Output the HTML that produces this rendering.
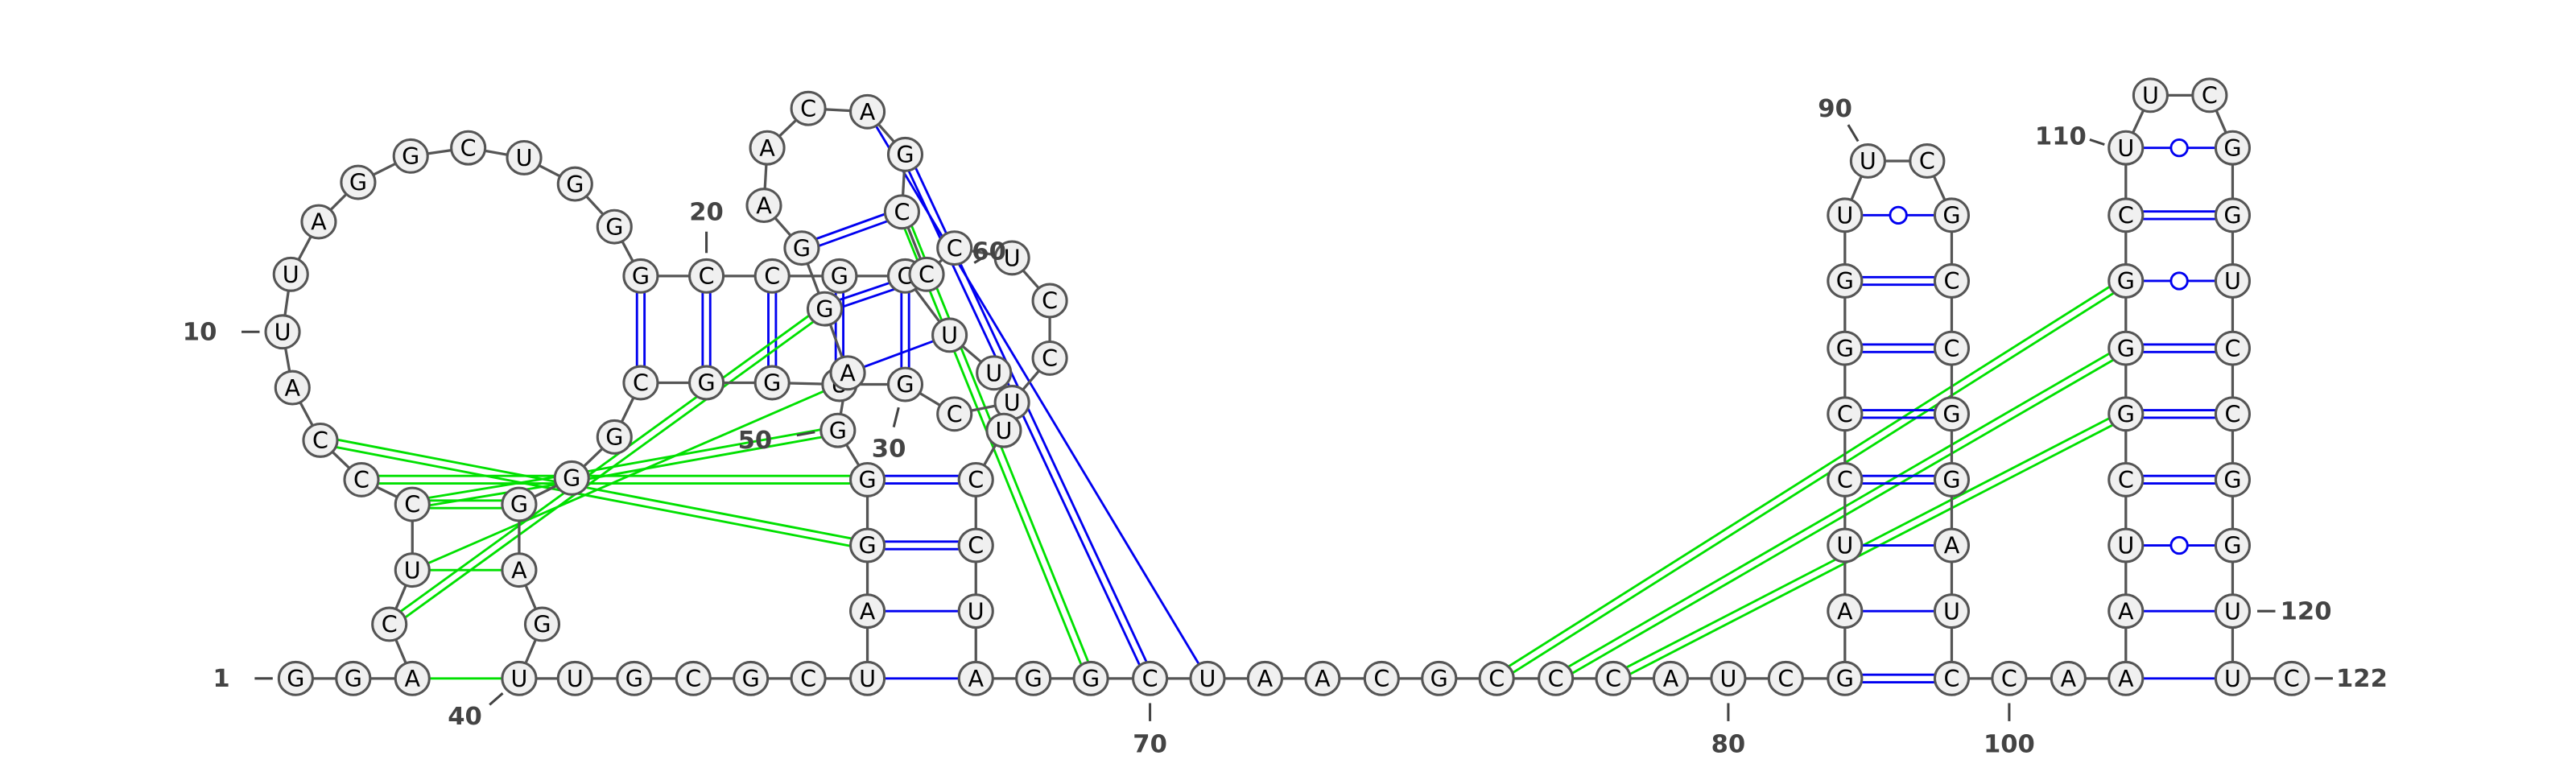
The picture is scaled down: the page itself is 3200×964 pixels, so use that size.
<!DOCTYPE html>
<html><head><meta charset="utf-8"><style>
html,body{margin:0;padding:0;background:#fff}
svg{display:block}
</style></head><body>
<svg id="rna" xmlns="http://www.w3.org/2000/svg" width="3200" height="964" viewBox="0 0 1568 472.37">
<g id="pairs"></g>
<g id="backbone"></g>
<g id="nodes"></g>
<g id="labels"></g>
</svg>
<script>
const letters = ["G","G","A","C","U","C","C","C","A","U","U","A","G","G","C","U","G","G","G","C","C","G","C","U","U","U","C","G","U","G","G","C","G","G","G","A","G","U","U","G","C","G","C","U","A","G","G","G","A","G","G","A","A","C","A","G","C","C","C","U","C","C","U","C","C","U","A","G","G","C","U","A","A","C","G","C","C","C","A","U","C","G","A","U","C","C","G","G","U","U","C","G","C","C","G","G","A","U","C","C","A","A","A","U","C","G","G","G","C","U","U","C","G","G","U","C","C","G","G","U","U","C"];
const xs = [180,215,251,237,251,251,220,195,178,172,177,194,218,250,285,319,350,374,390,430,470,511,551,578,605,616,581,551,511,470,430,390,374,348,316,316,330,316,350,386,422,457,492,528,528,528,528,510,516,502,488,465,467,492,528,551,549,564,581,616,639,639,611,594,594,594,594,629,664,700,735,770,805,841,876,911,947,982,1017,1052,1087,1123,1123,1123,1123,1123,1123,1123,1123,1137,1173,1188,1188,1188,1188,1188,1188,1188,1188,1223,1259,1294,1294,1294,1294,1294,1294,1294,1294,1294,1309,1345,1359,1359,1359,1359,1359,1359,1359,1359,1359,1395];
const ys = [413,413,413,380,347,307,292,268,236,202,167,135,111,95,90,96,112,138,168,168,168,168,168,204,227,245,252,234,234,233,233,233,266,291,307,347,380,413,413,413,413,413,413,413,372,332,292,262,227,188,151,125,90,66,68,94,129,167,151,157,183,218,262,292,332,372,413,413,413,413,413,413,413,413,413,413,413,413,413,413,413,413,372,332,292,252,212,171,131,98,98,131,171,212,252,292,332,372,413,413,413,413,372,332,292,252,212,171,131,90,58,58,90,131,171,212,252,292,332,372,413,413];
const extraEdges = [[62,26],[26,63],[63,64]];
const breakAfter = [62,63];
const pairTypes = [
 [19,32,"b2"],[20,31,"b2"],[21,30,"b2"],[22,29,"b2"],[23,28,"b2"],[51,57,"b2"],[50,58,"b2"],[49,24,"b1"],
 [47,64,"b2"],[46,65,"b2"],[45,66,"b1"],[44,67,"b1"],[55,71,"b1"],[56,70,"b2"],
 [3,38,"g1"],[5,36,"g1"],[6,35,"g2"],[7,47,"g2"],[8,46,"g2"],[6,34,"g2"],[34,48,"g2"],[4,50,"g2"],[5,29,"g1"],[57,69,"g2"],
 [76,108,"g2"],[77,107,"g2"],[78,106,"g2"],
 [82,99,"b2"],[83,98,"b1"],[84,97,"b1"],[85,96,"b2"],[86,95,"b2"],[87,94,"b2"],[88,93,"b2"],[89,92,"w"],
 [102,121,"b1"],[103,120,"b1"],[104,119,"w"],[105,118,"b2"],[106,117,"b2"],[107,116,"b2"],[108,115,"w"],[109,114,"b2"],[110,113,"w"]
];
const labelTexts = ["1","10","20","30","40","50","60","70","80","90","100","110","120","122"];
const labelPos = [[140,413,"e"],[132,202,"e"],[430,129,"t"],[541,273,"s"],[283,436,"s"],[470,268,"e"],[602,153,"m"],[700,453,"t"],[1052,453,"t"],[1117,66,"s"],[1223,453,"t"],[1270,83,"e"],[1388,372,"w"],[1422,413,"w"]];
const tickLines = [[155,413,166,413],[147,202,158,202],[430,141,430,154],[547,248,544,260],[298,429,306,422],[485,265,496,263],[593,160,598,157],[700,428,700,439],[1052,428,1052,439],[1125,76,1131,86],[1223,428,1223,439],[1272,85,1281,88],[1374,372,1385,372],[1409,413,1420,413]];

const NS="http://www.w3.org/2000/svg";
function mk(tag,attrs,parent){const e=document.createElementNS(NS,tag);for(const k in attrs)e.setAttribute(k,attrs[k]);parent.appendChild(e);return e;}
const gP=document.getElementById('pairs'),gB=document.getElementById('backbone'),gN=document.getElementById('nodes'),gL=document.getElementById('labels');

for(let i=0;i<letters.length-1;i++){
  if(breakAfter.includes(i+1))continue;
  const l=mk('line',{x1:xs[i],y1:ys[i],x2:xs[i+1],y2:ys[i+1],stroke:'#555','stroke-width':1.6},gB);
  
  
}
extraEdges.forEach(([a,b])=>{
  const l=mk('line',{x1:xs[a-1],y1:ys[a-1],x2:xs[b-1],y2:ys[b-1],stroke:'#555','stroke-width':1.6},gB);
  
  
});

pairTypes.forEach(([a,b,t])=>{
  const x1=xs[a-1],y1=ys[a-1],x2=xs[b-1],y2=ys[b-1];
  const col=t[0]==='g'?'#00e000':'#0000f0';
  const g=mk('g',{},gP);
  
  
  if(t.endsWith('2')){
    const dx=x2-x1,dy=y2-y1,L=Math.hypot(dx,dy),nx=-dy/L*2.3,ny=dx/L*2.3;
    mk('line',{x1:x1+nx,y1:y1+ny,x2:x2+nx,y2:y2+ny,stroke:col,'stroke-width':1.4},g);
    mk('line',{x1:x1-nx,y1:y1-ny,x2:x2-nx,y2:y2-ny,stroke:col,'stroke-width':1.4},g);
  }else{
    mk('line',{x1:x1,y1:y1,x2:x2,y2:y2,stroke:col,'stroke-width':1.4},g);
    if(t==='w')mk('circle',{cx:(x1+x2)/2,cy:(y1+y2)/2,r:5,fill:'#fff',stroke:col,'stroke-width':1.4},g);
  }
});

letters.forEach((ch,i)=>{
  const g=mk('g',{},gN);
  
  
  mk('ellipse',{cx:xs[i],cy:ys[i],rx:10.3,ry:10,fill:'#f0f0f0',stroke:'#555','stroke-width':1.5},g);
  const t=mk('text',{x:xs[i],y:ys[i]+5,'text-anchor':'middle','font-family':'"DejaVu Sans","Liberation Sans",sans-serif','font-size':14,fill:'#000'},g);
  t.textContent=ch;
});

labelTexts.forEach((txt,i)=>{
  const [x,y,a]=labelPos[i];
  const anchor=a==='e'?'end':(a==='w'?'start':'middle');
  const t=mk('text',{x:x,y:y+5,'text-anchor':anchor,'font-family':'"DejaVu Sans","Liberation Sans",sans-serif','font-size':15,'font-weight':'bold',fill:'#444'},gL);
  
  
  t.textContent=txt;
  const [a1,b1,a2,b2]=tickLines[i];
  const l=mk('line',{x1:a1,y1:b1,x2:a2,y2:b2,stroke:'#444','stroke-width':1.5},gL);
  
  
});
</script>
</body></html>
